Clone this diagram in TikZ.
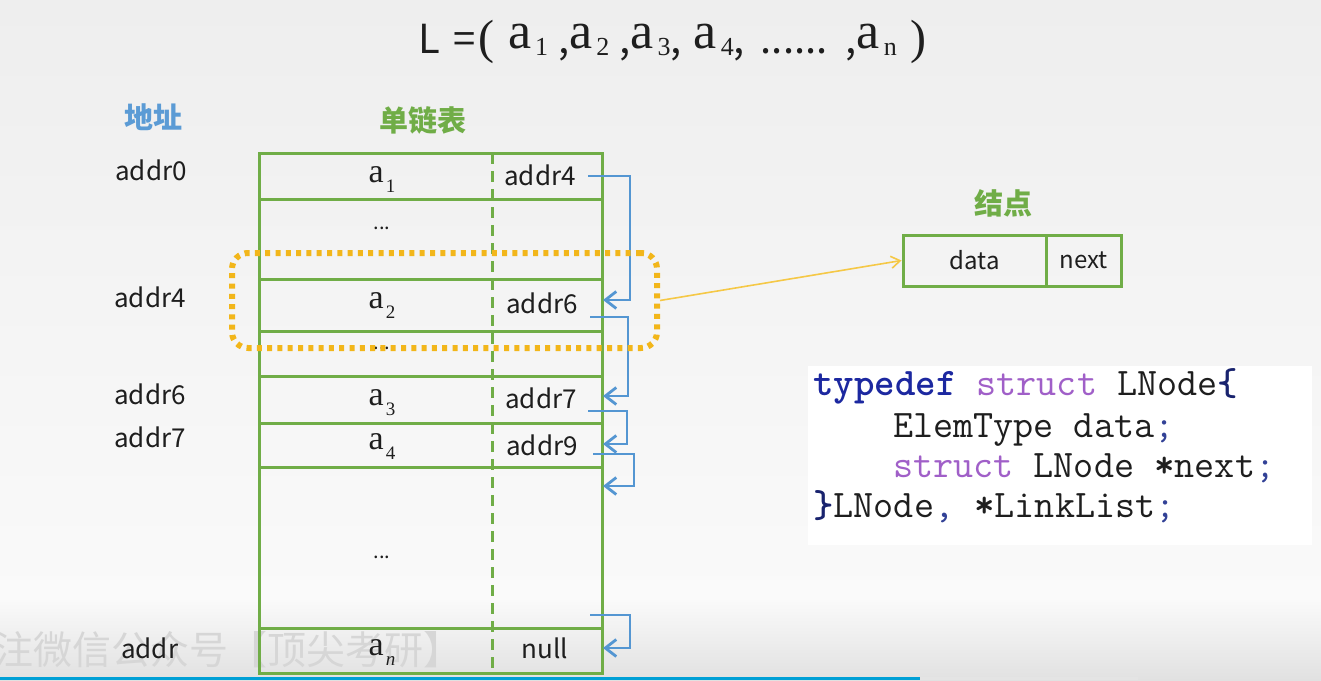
\documentclass[tikz,border=0pt]{standalone}
\usepackage{fontspec}
\setmainfont{Liberation Serif}
\newfontfamily\ya{Noto Sans CJK SC}
\usetikzlibrary{arrows.meta,calc}

\definecolor{tgreen}{RGB}{112,173,71}
\definecolor{tblue}{RGB}{91,155,213}
\definecolor{ptrblue}{RGB}{84,150,210}
\definecolor{selyellow}{RGB}{242,182,26}
\definecolor{linkyellow}{RGB}{245,200,70}
\definecolor{txt}{RGB}{30,30,30}
\definecolor{kwblue}{RGB}{28,40,160}
\definecolor{kwpurple}{RGB}{160,95,200}
\definecolor{brace}{RGB}{25,35,110}
\definecolor{punct}{RGB}{50,65,150}
\definecolor{bgtop}{RGB}{238,238,238}
\definecolor{bgmid}{RGB}{250,250,250}
\definecolor{bgbot}{RGB}{225,225,225}
\definecolor{mark}{RGB}{214,214,214}
\definecolor{barblue}{RGB}{0,160,214}
\definecolor{bargray}{RGB}{228,228,228}

% element a with a subscript: title size and cell size
\newcommand\ta[1]{{\fontsize{52pt}{52pt}\selectfont\raisebox{5pt}{a}}\hspace{4pt}{\fontsize{26pt}{26pt}\selectfont\raisebox{-2pt}{#1}}}
\newcommand\ca[1]{{\fontsize{34pt}{34pt}\selectfont a}\hspace{2pt}{\fontsize{19pt}{19pt}\selectfont\raisebox{-10pt}{#1}}}
\newcommand\tp[1]{{\ya\fontsize{40pt}{40pt}\selectfont #1}}

\tikzset{
  lw/.style={line width=3pt},
  rowbox/.style={draw=tgreen, lw, minimum width=343pt, inner sep=0pt},
  nodebox/.style={draw=tgreen, lw, minimum height=51pt, inner sep=0pt, font=\ya\fontsize{24pt}{24pt}\selectfont, text=txt},
  addr/.style={font=\ya\fontsize{26pt}{26pt}\selectfont, text=txt, inner sep=0pt},
  cell/.style={text=txt, inner sep=0pt},
  dots/.style={font=\ya\fontsize{20pt}{20pt}\selectfont, text=txt, inner sep=0pt},
  head/.style={font=\ya\bfseries\fontsize{29pt}{29pt}\selectfont, inner sep=0pt},
  ptr/.style={draw=ptrblue, line width=2.8pt, -{Straight Barb[length=11pt,width=17pt]}},
  codeline/.style={font=\ttfamily\fontsize{39pt}{39pt}\selectfont, text=txt, inner sep=0pt, anchor=base west},
}

\begin{document}
\begin{tikzpicture}[x=1pt,y=-1pt]
\useasboundingbox (0,0) rectangle (1321,680);

% backdrop
\shade[top color=bgtop, bottom color=bgmid] (0,0) rectangle (1321,600);
\shade[top color=bgmid, bottom color=bgbot] (0,600) rectangle (1321,680);
\fill[white] (808,366) rectangle (1312,545);

% title
\node[anchor=base west, inner sep=0pt, text=txt] (title) at (418,53)
  {\tp{L}\hspace{14pt}\tp{=}\hspace{2pt}{\fontsize{48pt}{48pt}\selectfont(}\hspace{14pt}\ta{1}\hspace{10pt}\tp{,}\ta{2}\hspace{10pt}\tp{,}\ta{3}\tp{,}\hspace{12pt}\ta{4}\tp{,}\hspace{16pt}\tp{......}\hspace{18pt}\tp{,}\ta{n}\hspace{14pt}{\fontsize{48pt}{48pt}\selectfont)}};

% headings
\node[head, text=tblue] (haddr) at (153,117) {地址};
\node[head, text=tgreen] (hlist) at (423,120) {单链表};
\node[head, text=tgreen] (hnode) at (1003,203) {结点};

% watermark
\node[anchor=base east, inner sep=0pt, text=mark, font=\ya\fontsize{39pt}{39pt}\selectfont] (wm) at (463,664) {注微信公众号【顶尖考研】};

% table rows
\node[rowbox, minimum height=46pt] (r1) at (430.5,176) {};
\node[rowbox, minimum height=80pt] (r2) at (430.5,239) {};
\node[rowbox, minimum height=52pt] (r3) at (430.5,305) {};
\node[rowbox, minimum height=45pt] (r4) at (430.5,353.5) {};
\node[rowbox, minimum height=47pt] (r5) at (430.5,399.5) {};
\node[rowbox, minimum height=44pt] (r6) at (430.5,445) {};
\node[rowbox, minimum height=161pt] (r7) at (430.5,547.5) {};
\node[rowbox, minimum height=45pt] (r8) at (430.5,650.5) {};
\draw[tgreen, lw, dash pattern=on 11pt off 7pt] (492,153) -- (492,673);

% data column
\node[cell, anchor=base] (a1) at (382,182) {\ca{1}};
\node[dots] (d1) at (382,228) {...};
\node[cell, anchor=base] (a2) at (382,308) {\ca{2}};
\node[dots] (d2) at (382,348) {...};
\node[cell, anchor=base] (a3) at (382,405) {\ca{3}};
\node[cell, anchor=base] (a4) at (382,449) {\ca{4}};
\node[dots] (d3) at (382,557) {...};
\node[cell, anchor=base] (an) at (382,655) {\ca{\itshape n}};

% next column
\node[addr, anchor=base] (p1) at (540,185) {addr4};
\node[addr, anchor=base] (p2) at (542,313) {addr6};
\node[addr, anchor=base] (p3) at (541,408) {addr7};
\node[addr, anchor=base] (p4) at (542,455) {addr9};
\node[addr, anchor=base] (p5) at (545,658) {null};

% address column
\node[addr, anchor=base] (l1) at (151,180) {addr0};
\node[addr, anchor=base] (l2) at (150,307) {addr4};
\node[addr, anchor=base] (l3) at (150,404) {addr6};
\node[addr, anchor=base] (l4) at (150,447) {addr7};
\node[addr, anchor=base west] (l5) at (121,658) {addr};

% next pointers
\coordinate (s1) at (588,176);  \coordinate (k1) at (630,300); \coordinate (t1) at (603,300);
\coordinate (s2) at (590,317);  \coordinate (k2) at (628,396); \coordinate (t2) at (603,396);
\coordinate (s3) at (588,411);  \coordinate (k3) at (627,444); \coordinate (t3) at (603,444);
\coordinate (s4) at (593,454);  \coordinate (k4) at (634,486); \coordinate (t4) at (603,486);
\coordinate (s5) at (590,615);  \coordinate (k5) at (630,648); \coordinate (t5) at (603,648);
\draw[ptr] (s1) -| (k1) -- (t1);
\draw[ptr] (s2) -| (k2) -- (t2);
\draw[ptr] (s3) -| (k3) -- (t3);
\draw[ptr] (s4) -| (k4) -- (t4);
\draw[ptr] (s5) -| (k5) -- (t5);

% highlighted node
\node[draw=selyellow, line width=6pt, dash pattern=on 5pt off 5.3pt, rounded corners=16pt,
      minimum width=425pt, minimum height=95pt, inner sep=0pt] (sel) at (444.5,300.5) {};

% node layout
\node[nodebox, minimum width=143pt] (ndata) at (974.5,260.5) {data};
\node[nodebox, minimum width=75pt] (nnext) at (1083.5,260.5) {next};
\draw[draw=linkyellow, line width=1.6pt, -{Straight Barb[length=9pt,width=12pt]}] (sel.east) -- (ndata.west);

% structure definition
\node[codeline] (c1) at (813,395) {{\color{kwblue}\bfseries typedef} {\color{kwpurple}struct} LNode{\color{brace}\bfseries\{}};
\node[codeline] (c2) at (893,437) {ElemType data{\color{punct};}};
\node[codeline] (c3) at (893,477) {{\color{kwpurple}struct} LNode {\bfseries*}next{\color{punct};}};
\node[codeline] (c4) at (813,517) {{\color{brace}\bfseries\}}LNode{\color{punct},} {\bfseries*}LinkList{\color{punct};}};

% progress bar
\fill[barblue] (0,677) rectangle (920,680);
\fill[bargray] (920,677) rectangle (1138,680);
\end{tikzpicture}
\end{document}
